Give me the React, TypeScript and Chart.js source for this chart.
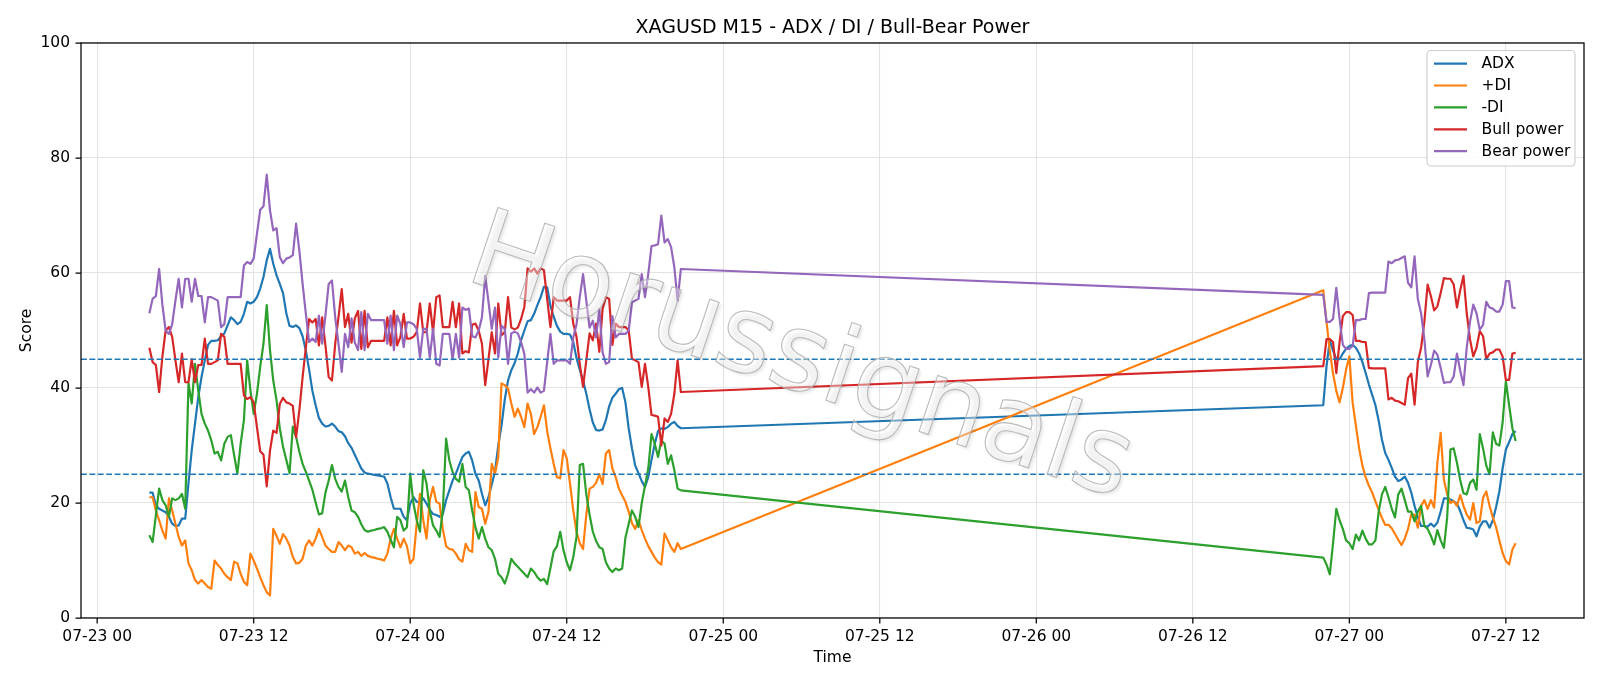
import React, { useEffect, useRef } from "react";
import { Chart, registerables } from "chart.js";

Chart.register(...registerables);

// ---------- text ----------
const TITLE = "XAGUSD M15 - ADX / DI / Bull-Bear Power";
const X_LABEL = "Time";
const Y_LABEL = "Score";
const WATERMARK = "Horussignals";

// ---------- time layout (hours after 07-23 00:00, M15 bars) ----------
const SEGMENT_START_HOURS = [4, 94];
const BAR_HOURS = 0.25;
const X_MIN = -1.24;
const X_MAX = 113.99;

const X_TICK_HOURS = [0, 12, 24, 36, 48, 60, 72, 84, 96, 108];
const X_TICK_LABELS = [
  "07-23 00", "07-23 12", "07-24 00", "07-24 12", "07-25 00",
  "07-25 12", "07-26 00", "07-26 12", "07-27 00", "07-27 12",
];
const Y_TICKS = [0, 20, 40, 60, 80, 100];
const THRESHOLDS = [45, 25];

// ---------- series: segment 1 (07-23 04:00 .. 07-24 20:45) ----------
const ADX_1 = [
  21.8, 21.8, 19.6, 19, 18.7, 18.4, 17.6, 16.4, 16, 16.1, 17.3, 17.3, 23.4, 29.2, 33.8, 38.4, 41.9, 44.8, 47.5, 48.2,
  48.2, 48.3, 49, 49.5, 50.9, 52.3, 51.8, 51.1, 51.5, 52.9, 55, 54.7, 55, 55.8, 57.3, 59.3, 62.2, 64.2, 61.6, 59.6,
  58.1,
  56.5, 53, 50.8, 50.6, 50.9, 50.4, 49, 46.5, 43.2, 39.5, 37, 34.8, 33.8, 33.3, 33.4, 33.8, 33.3, 32.5, 32.3, 31.6,
  30.4, 29.6, 28.4, 27.2, 26, 25.3, 25.1, 25, 24.9, 24.8, 24.7, 24.6, 23.4, 21, 19, 19, 19, 17.6, 17, 19.9,
  21, 20.2, 20.2, 20.8, 19.9, 18.8, 18.1, 17.9, 17.6, 18.1, 20.5, 22.2, 23.9, 25.1, 26.6, 28, 28.6, 28.9, 27.4, 25.1,
  23.9, 21.6, 19.6, 21, 23.2, 25.5, 30, 33.5, 38, 41.3, 43.1, 44.3, 46, 48.3, 50, 51.6,
  51.8, 52.9, 54.4, 55.8, 57.6, 57.5, 54.3, 52.4, 50.8, 49.8, 49.4, 49.4, 49.3, 48, 45.2, 43.2, 41.3, 39, 36.3, 34,
  32.7, 32.6, 32.8, 34.4, 36.8, 38.3, 39, 39.8, 40, 37.5, 33, 29.5, 26.5, 25.2, 23.8, 22.8, 24.5, 27.5, 30.3, 32.5,
  33, 32.9, 33.2, 33.8, 34.1, 33.4, 33,
];
const PLUS_DI_1 = [
  21, 21, 18.7, 17, 15.2, 13.8, 20.8, 18.7, 16.4, 14.1, 12.6, 13.5, 9.5, 8.3, 6.6, 6, 6.6, 6, 5.4, 5.1,
  10, 9.2, 8.6, 7.7, 7.1, 6.6, 9.8, 9.5, 7.7, 6.3, 5.7, 11.2, 10, 8.6, 7.1, 5.7, 4.5, 3.9, 15.5, 14.3,
  12.9,
  14.6, 13.8, 12.6, 10.6, 9.5, 9.6, 10.3, 12.6, 13.5, 12.6, 13.8, 15.5, 14.1, 12.6, 12, 11.5, 11.5, 13.2, 12.6, 11.8,
  12.6, 12.3, 11.2, 11.5, 10.8, 11.3, 10.8, 10.6, 10.5, 10.3, 10.2, 10, 11.2, 13.8, 15.5, 13.8, 12.3, 13.8, 12.5, 9.5,
  10.3, 16.4, 21.6, 17, 13.8, 20.5, 22.8, 20.2, 19.9, 15.5, 12.5, 12, 11.9, 11.2, 10.2, 9.8, 12.9, 11.8, 11.5, 21.9,
  19.3, 19, 16.4, 18.5, 26.8, 25.1, 28, 40.8, 40.5, 39.9, 37.3, 35, 36.4, 35, 33.2, 37.3,
  35.5, 32, 33.2, 35, 37, 32.5, 29.5, 26.8, 24.5, 24.3, 29.2, 27.8, 23.4, 18.7, 15, 13, 12, 18, 22.5, 22.8,
  23.5, 25, 23.3, 28.6, 29.2, 26, 24.5, 22.5, 21.3, 20.2, 18.5, 16.5, 15.5, 17, 15.3, 13.8, 12.5, 11.5, 10.5, 9.7,
  9.3, 14.7, 13.5, 12.3, 11.5, 13, 12,
];
const MINUS_DI_1 = [
  14.4, 13.2, 17.9, 22.5, 20.5, 19.6, 17.6, 20.8, 20.5, 20.8, 21.6, 19, 40.8, 37.3, 44.2, 39.6, 35.5, 33.8, 32.6, 30.9,
  28.6, 28.9, 27.4, 30.3, 31.5, 31.8, 28.3, 25.1, 30.3, 34.4, 44.8, 39.6, 35.5, 39, 43.7, 47.7, 54.4, 46.6, 41.3, 37.9,
  33,
  29.8, 27.5, 25.2, 33.3, 31.5, 28.9, 26.8, 25.4, 23.9, 22.3, 20.1, 18, 18.2, 21.8, 23.9, 26.6, 24.2, 22.8, 22, 23.9,
  21, 18.7, 18.4, 17.6, 16.3, 15.3, 15, 15.2, 15.3, 15.5, 15.6, 15.8, 15, 13.6, 12.3, 17.6, 17, 15.2, 15.8, 25.1,
  19.9, 17, 15, 25.7, 23.4, 18.7, 16.1, 15.2, 14.1, 18.7, 31.2, 27.4, 25.4, 24.2, 23.7, 26.8, 22.8, 22.2, 18.7, 15.8,
  13.8, 15.8, 13.8, 12.3, 11.8, 10.3, 7.7, 7.1, 6, 7.7, 10.3, 9.5, 8.9, 8.3, 7.7, 7.1, 8.6, 8, 7.1, 6.5,
  6.8, 5.9, 8.7, 11.6, 12.5, 15, 11.8, 9.7, 8.3, 10.6, 14.1, 26.6, 26.8, 21.5, 18, 15, 13.4, 12.3, 12, 9.7,
  8.6, 8, 8.6, 8.3, 8.6, 14, 16.4, 18.7, 17.6, 15.8, 20, 23, 26, 32, 30.3, 28, 30.9, 30.3, 26.8, 28.3,
  25.7, 22.5, 22.2,
];
const BULL_1 = [
  47, 44.5, 44, 39.3, 45.5, 50, 50.6, 48.9, 44.8, 41, 46, 41, 41, 45, 41, 44, 44, 48.6, 44.2, 44.2,
  44.5, 44.8, 49.4, 48.9, 44.2, 44.2, 44.2, 44.2, 44.2, 38.7, 38.1, 38.4, 37.5, 33.2, 29, 28.4, 22.9, 29.1, 32.6, 32.2,
  37.2,
  38.3, 37.5, 37.3, 36.9, 31.4, 36.1, 41.9, 47.1, 52, 51.4, 52, 47.4, 52.3, 47.4, 41.9, 41.3, 47.7, 52.3, 57.2, 50.6,
  52.9, 47.9, 52.1, 53.4, 46.8, 53.4, 47.1, 48.2, 48.2, 48.2, 48.2, 48.2, 52.3, 47.4, 53.4, 47.4, 48.9, 52.9, 48.6, 48.6,
  48.9, 49.7, 54.7, 49.7, 49.7, 54.7, 49.7, 55.8, 56.1, 50.6, 50.6, 50.6, 55, 50.6, 54.7, 46, 46.4, 46.2, 51, 51.2,
  50, 47.7, 40.5, 45, 49.7, 46, 54.7, 49.2, 49.7, 55.8, 50.5, 50.2, 50.5, 52, 54.1, 60.8,
  60.2, 60.8, 59.9, 60.8, 60.5, 55.5, 50.6, 55.8, 55.2, 55.2, 55.2, 55.2, 55.8, 51.2, 48.9, 44.2, 40.2, 44.8, 49.5, 48.3,
  51.2, 46.3, 53.8, 55.8, 55.5, 47.5, 51.2, 50.6, 50.6, 50.6, 50, 45.1, 44.8, 44.5, 40.2, 44.2, 40.2, 35.3, 35.2, 35,
  30, 34.7, 34.1, 35.5, 39, 44.8, 39.3,
];
const BEAR_1 = [
  53, 55.5, 56, 60.7, 54.5, 50, 49.4, 51.1, 55.2, 59, 54, 59, 59, 55, 59, 56, 56, 51.4, 55.8, 55.8,
  55.5, 55.2, 50.6, 51.1, 55.8, 55.8, 55.8, 55.8, 55.8, 61.3, 61.9, 61.6, 62.5, 66.8, 71, 71.6, 77.1, 70.9, 67.4, 67.8,
  62.8,
  61.7, 62.5, 62.7, 63.1, 68.6, 63.9, 58.1, 52.9, 48, 48.6, 48, 52.6, 47.7, 52.6, 58.1, 58.7, 52.3, 47.7, 42.8, 49.4,
  47.1, 52.1, 47.9, 46.6, 53.2, 46.6, 52.9, 51.8, 51.8, 51.8, 51.8, 51.8, 47.7, 52.6, 46.6, 52.6, 51.1, 47.1, 51.4, 51.4,
  51.1, 50.3, 45.3, 50.3, 50.3, 45.3, 50.3, 44.2, 43.9, 49.4, 49.4, 49.4, 45, 49.4, 45.3, 54, 53.6, 53.8, 49, 48.8,
  50, 52.3, 59.5, 55, 50.3, 54, 45.3, 50.8, 50.3, 44.2, 49.5, 49.8, 49.5, 48, 45.9, 39.2,
  39.8, 39.2, 40.1, 39.2, 39.5, 44.5, 49.4, 44.2, 44.8, 44.8, 44.8, 44.8, 44.2, 48.8, 51.1, 55.8, 59.8, 55.2, 50.5, 51.7,
  48.8, 53.7, 46.2, 44.2, 44.5, 52.5, 48.8, 49.4, 49.4, 49.4, 50, 54.9, 55.2, 55.5, 59.8, 55.8, 59.8, 64.7, 64.8, 65,
  70, 65.3, 65.9, 64.5, 61, 55.2, 60.7,
];

// ---------- series: segment 2 (07-26 22:00 .. 07-27 12:45) ----------
const ADX_2 = [
  37, 43.8, 48.3, 46.5, 45, 45, 46, 46.8, 47.3, 47.5, 47, 46, 44.5, 42.6, 40.6, 38.8, 37, 34.3, 31, 28.7,
  27.5, 26.1, 24.6, 23.8, 24.1, 24.6, 23.5, 21.8, 19.5, 17.5, 16, 16, 15.9, 16.4, 15.9, 16.6, 18.5, 20.8, 20.8, 20.6,
  20.3, 19.9, 18.6, 17, 15.7, 15.6, 15.4, 14.2, 15.9, 16.8, 16.8, 15.7, 17, 19.3, 22, 26, 29.3, 30.6, 32, 32.5,
];
const PLUS_DI_2 = [
  57, 51.5, 46.5, 42.5, 39.5, 37.5, 40, 43.2, 45.5, 37.5, 33.5, 29.5, 26.5, 24.5, 23, 21.8, 20.3, 18.8, 17.4, 16.2,
  16.2, 15.6, 14.6, 13.6, 12.7, 13.8, 15.5, 18, 18, 15.7, 19.5, 20.5, 19, 20.5, 19.2, 27, 32.2, 24, 21.5, 20,
  20.3, 19.5, 21.4, 19.5, 18, 17.1, 20, 16.5, 16.8, 20.9, 22, 19.5, 17.5, 15.8, 13.5, 11.3, 9.9, 9.3, 11.9, 13,
];
const MINUS_DI_2 = [
  10.5, 9.3, 7.6, 13, 19, 17, 15.5, 13.5, 13, 12, 14.5, 13.5, 15.2, 13.8, 12.8, 12.8, 13.5, 18.5, 21.5, 22.8,
  21, 19, 17.5, 21.5, 22.5, 20.5, 18.5, 18.5, 16.8, 18.5, 19.5, 16, 15.5, 14.3, 12.8, 15.3, 13.5, 12.2, 17.5, 29.3,
  29.5, 27, 24, 21.7, 21.5, 23.5, 24.1, 22.3, 32, 29.5, 26.5, 25, 32.3, 30.3, 30, 34, 41.2, 37, 33, 30.8,
];
const BULL_2 = [
  43.8, 48.5, 48.5, 48, 42.6, 48, 52.5, 53.2, 53.2, 52.7, 48.2, 48.2, 48, 48, 43.5, 43.4, 43.4, 43.4, 43.4, 43.4,
  38, 38.3, 37.8, 37.7, 37.4, 37.1, 41.7, 42.5, 37.1, 44.5, 47, 51.5, 58, 56, 53.5, 54.2, 56.5, 59.1, 59, 59,
  58, 54, 57, 59.5, 53, 48.5, 45.5, 47, 49.9, 49, 45, 46, 46.2, 46.7, 46.7, 45.5, 41.4, 41.4, 46, 46.1,
];
const BEAR_2 = [
  56.2, 51.5, 51.5, 52, 57.4, 52, 47.5, 46.8, 46.8, 47.3, 51.8, 51.8, 52, 52, 56.5, 56.6, 56.6, 56.6, 56.6, 56.6,
  62, 61.7, 62.2, 62.3, 62.6, 62.9, 58.3, 57.5, 62.9, 55.5, 53, 48.5, 42, 44, 46.5, 45.8, 43.5, 40.9, 41, 41,
  42, 46, 43, 40.5, 47, 51.5, 54.5, 53, 50.1, 51, 55, 54, 53.8, 53.3, 53.3, 54.5, 58.6, 58.6, 54, 53.9,
];

const SERIES_NAMES = ["ADX", "+DI", "-DI", "Bull power", "Bear power"];
const SERIES_COLORS = ["#1f77b4", "#ff7f0e", "#2ca02c", "#d62728", "#9467bd"];
const SERIES_SEGMENTS = [
  [ADX_1, ADX_2],
  [PLUS_DI_1, PLUS_DI_2],
  [MINUS_DI_1, MINUS_DI_2],
  [BULL_1, BULL_2],
  [BEAR_1, BEAR_2],
];

const FONT = "'DejaVu Sans', 'Liberation Sans', sans-serif";
const TICK_SIZE = 15.5;
const LINE_W = 2.2;

function toPoints(segments: number[][]) {
  const pts: { x: number; y: number }[] = [];
  segments.forEach((seg, s) => {
    seg.forEach((v, k) => pts.push({ x: SEGMENT_START_HOURS[s] + k * BAR_HOURS, y: v }));
  });
  return pts;
}

const decorations = {
  id: "decorations",
  afterDatasetsDraw(chart: any) {
    const { ctx, chartArea: ca, scales } = chart;
    const y = scales.y;
    ctx.save();
    ctx.beginPath();
    ctx.rect(ca.left, ca.top, ca.right - ca.left, ca.bottom - ca.top);
    ctx.clip();
    // threshold lines
    ctx.strokeStyle = "#1f77b4";
    ctx.lineWidth = 1.5;
    ctx.setLineDash([5.9, 2.5]);
    THRESHOLDS.forEach((t) => {
      const py = y.getPixelForValue(t);
      ctx.beginPath();
      ctx.moveTo(ca.left, py);
      ctx.lineTo(ca.right, py);
      ctx.stroke();
    });
    ctx.setLineDash([]);
    // watermark
    ctx.translate(800, 362);
    ctx.rotate((18.5 * Math.PI) / 180);
    ctx.font = `108px ${FONT}`;
    ctx.textAlign = "center";
    ctx.textBaseline = "middle";
    ctx.shadowColor = "rgba(0,0,0,0.22)";
    ctx.shadowBlur = 3;
    ctx.shadowOffsetX = 2.5;
    ctx.shadowOffsetY = 2.5;
    ctx.fillStyle = "rgba(255,255,255,0.4)";
    ctx.fillText(WATERMARK, 0, 0);
    ctx.shadowColor = "rgba(0,0,0,0)";
    ctx.strokeStyle = "rgba(175,175,175,0.85)";
    ctx.lineWidth = 1.1;
    ctx.strokeText(WATERMARK, 0, 0);
    ctx.restore();
  },
  afterDraw(chart: any) {
    const { ctx, chartArea: ca, scales } = chart;
    const x = scales.x;
    const y = scales.y;
    ctx.save();
    // frame
    ctx.strokeStyle = "#000";
    ctx.lineWidth = 1.25;
    ctx.strokeRect(ca.left, ca.top, ca.right - ca.left, ca.bottom - ca.top);
    // tick marks
    ctx.beginPath();
    X_TICK_HOURS.forEach((h) => {
      const px = x.getPixelForValue(h);
      ctx.moveTo(px, ca.bottom);
      ctx.lineTo(px, ca.bottom + 5.5);
    });
    Y_TICKS.forEach((v) => {
      const py = y.getPixelForValue(v);
      ctx.moveTo(ca.left, py);
      ctx.lineTo(ca.left - 5.5, py);
    });
    ctx.stroke();
    // title
    ctx.fillStyle = "#000";
    ctx.textAlign = "center";
    ctx.textBaseline = "alphabetic";
    ctx.font = `19px ${FONT}`;
    ctx.fillText(TITLE, (ca.left + ca.right) / 2, 32.8);
    // axis labels
    ctx.font = `${TICK_SIZE}px ${FONT}`;
    ctx.fillText(X_LABEL, (ca.left + ca.right) / 2, 662);
    ctx.save();
    ctx.translate(30.5, (ca.top + ca.bottom) / 2);
    ctx.rotate(-Math.PI / 2);
    ctx.fillText(Y_LABEL, 0, 0);
    ctx.restore();
    // legend
    const bx = 1427, by = 50.5, bw = 148, bh = 115.5;
    ctx.beginPath();
    ctx.roundRect(bx, by, bw, bh, 4);
    ctx.fillStyle = "rgba(255,255,255,0.8)";
    ctx.fill();
    ctx.strokeStyle = "#cccccc";
    ctx.lineWidth = 1.1;
    ctx.stroke();
    ctx.textAlign = "left";
    ctx.textBaseline = "middle";
    ctx.font = `${TICK_SIZE}px ${FONT}`;
    SERIES_NAMES.forEach((name, k) => {
      const cy = 63.6 + k * 21.9;
      ctx.strokeStyle = SERIES_COLORS[k];
      ctx.lineWidth = LINE_W;
      ctx.beginPath();
      ctx.moveTo(1434, cy);
      ctx.lineTo(1467, cy);
      ctx.stroke();
      ctx.fillStyle = "#000";
      ctx.fillText(name, 1481.5, cy + 0.5);
    });
    ctx.restore();
  },
};

export default function App() {
  const canvasRef = useRef<HTMLCanvasElement | null>(null);

  useEffect(() => {
    const canvas = canvasRef.current;
    if (!canvas) return;
    Chart.defaults.font.family = FONT;
    const datasets = SERIES_NAMES.map((name, k) => ({
      label: name,
      data: toPoints(SERIES_SEGMENTS[k]),
      borderColor: SERIES_COLORS[k],
      backgroundColor: SERIES_COLORS[k],
      borderWidth: LINE_W,
      pointRadius: 0,
      pointHoverRadius: 0,
      tension: 0,
      fill: false,
      order: SERIES_NAMES.length - 1 - k,
      borderJoinStyle: "round" as const,
      borderCapStyle: "butt" as const,
    }));
    const chart = new Chart(canvas, {
      type: "line",
      data: { datasets },
      options: {
        responsive: false,
        maintainAspectRatio: false,
        animation: false,
        devicePixelRatio: 1,
        parsing: false,
        normalized: true,
        layout: { padding: { top: 43, right: 16, bottom: 0, left: 0 } },
        plugins: {
          legend: { display: false },
          title: { display: false },
          tooltip: { enabled: false },
        },
        events: [],
        scales: {
          x: {
            type: "linear",
            min: X_MIN,
            max: X_MAX,
            afterBuildTicks: (scale: any) => {
              scale.ticks = X_TICK_HOURS.map((v) => ({ value: v }));
            },
            afterFit: (scale: any) => {
              scale.height = 68;
            },
            ticks: {
              autoSkip: false,
              maxRotation: 0,
              minRotation: 0,
              padding: 10,
              color: "#000",
              font: { size: TICK_SIZE, family: FONT },
              callback: (_v: any, i: number) => X_TICK_LABELS[i],
            },
            grid: { color: "#e3e3e3", lineWidth: 1.1, drawTicks: false },
            border: { display: false },
          },
          y: {
            type: "linear",
            min: 0,
            max: 100,
            afterBuildTicks: (scale: any) => {
              scale.ticks = Y_TICKS.map((v) => ({ value: v }));
            },
            afterFit: (scale: any) => {
              scale.width = 81;
            },
            ticks: {
              padding: 11,
              color: "#000",
              font: { size: TICK_SIZE, family: FONT },
              callback: (v: any) => String(v),
            },
            grid: { color: "#e3e3e3", lineWidth: 1.1, drawTicks: false },
            border: { display: false },
          },
        },
      },
      plugins: [decorations],
    });
    return () => chart.destroy();
  }, []);

  return (
    <div style={{ position: "fixed", left: 0, top: 0, width: 1600, height: 686, background: "#fff" }}>
      <canvas ref={canvasRef} width={1600} height={686} style={{ display: "block", width: 1600, height: 686 }} />
    </div>
  );
}
